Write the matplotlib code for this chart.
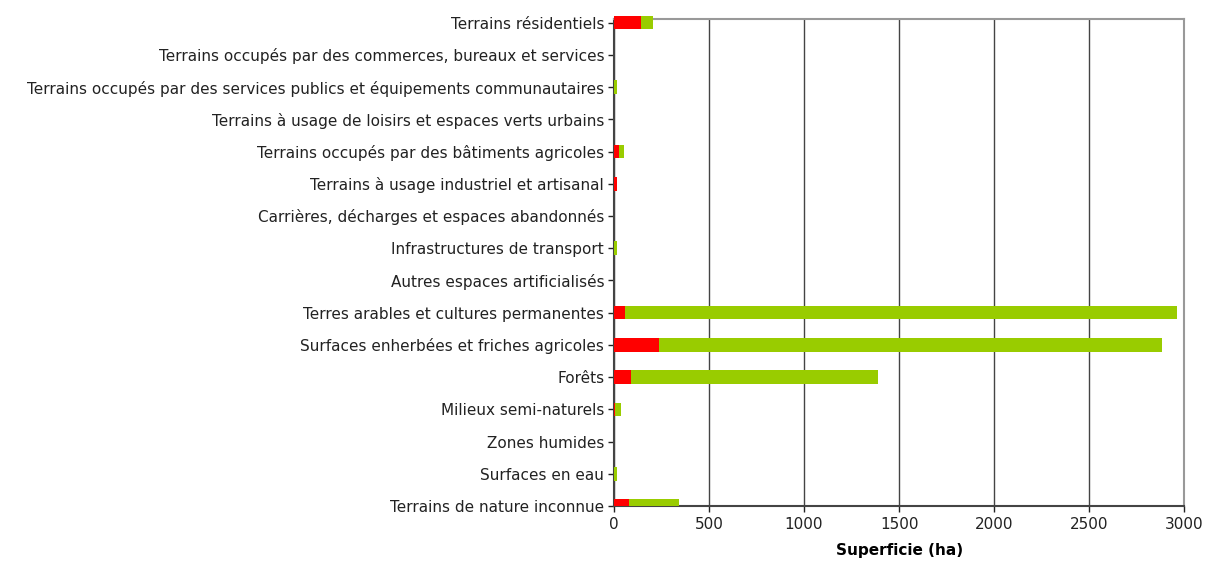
import numpy as np
import matplotlib.pyplot as plt

plt.rcParams['font.family'] = 'DejaVu Sans'

# === Données : occupation du sol (ha) ===
categories = [
    "Terrains résidentiels",
    "Terrains occupés par des commerces, bureaux et services",
    "Terrains occupés par des services publics et équipements communautaires",
    "Terrains à usage de loisirs et espaces verts urbains",
    "Terrains occupés par des bâtiments agricoles",
    "Terrains à usage industriel et artisanal",
    "Carrières, décharges et espaces abandonnés",
    "Infrastructures de transport",
    "Autres espaces artificialisés",
    "Terres arables et cultures permanentes",
    "Surfaces enherbées et friches agricoles",
    "Forêts",
    "Milieux semi-naturels",
    "Zones humides",
    "Surfaces en eau",
    "Terrains de nature inconnue",
]
red_vals = [141, 0, 2, 0, 25, 15, 0, 2, 0, 57, 237, 89, 8, 0, 1, 79]
green_vals = [63, 0, 12, 0, 27, 0, 0, 13, 0, 2905, 2645, 1300, 28, 0, 14, 263]
xticks = [0, 500, 1000, 1500, 2000, 2500, 3000]

fig = plt.figure(figsize=(12.06, 5.61), dpi=100)
ax = fig.add_axes([0.509, 0.098, 0.473, 0.868])

y = np.arange(len(categories))
h = 0.42
bars_r = ax.barh(y, red_vals, height=h, color='#FF0000', zorder=3)
bars_g = ax.barh(y, green_vals, left=red_vals, height=h, color='#99CC00', zorder=3)
# la première barre déborde au-dessus du cadre comme dans l'original
bars_r[0].set_clip_on(False)
bars_g[0].set_clip_on(False)

ax.set_ylim(len(categories) - 1, -0.11)
ax.set_xlim(0, 3000)
ax.set_yticks(y)
ax.set_yticklabels(categories, fontsize=11, color='#222222')
ax.set_xticks(xticks)
ax.set_xticklabels([str(v) for v in xticks], fontsize=11, color='#222222')
ax.tick_params(axis='y', length=4, width=1, color='#222222', pad=3)
ax.tick_params(axis='x', length=4, width=1, color='#222222', pad=4)

ax.xaxis.grid(True, color='#444444', linewidth=1, zorder=0)
ax.set_axisbelow(True)
ax.spines['left'].set_color('#444444')
ax.spines['left'].set_linewidth(1.5)
ax.spines['bottom'].set_color('#444444')
ax.spines['bottom'].set_linewidth(1.5)
ax.spines['top'].set_color('#999999')
ax.spines['top'].set_linewidth(1.5)
ax.spines['right'].set_color('#999999')
ax.spines['right'].set_linewidth(1.5)

ax.set_xlabel('Superficie (ha)', fontsize=11, fontweight='bold', labelpad=8)

plt.savefig('out.png')
